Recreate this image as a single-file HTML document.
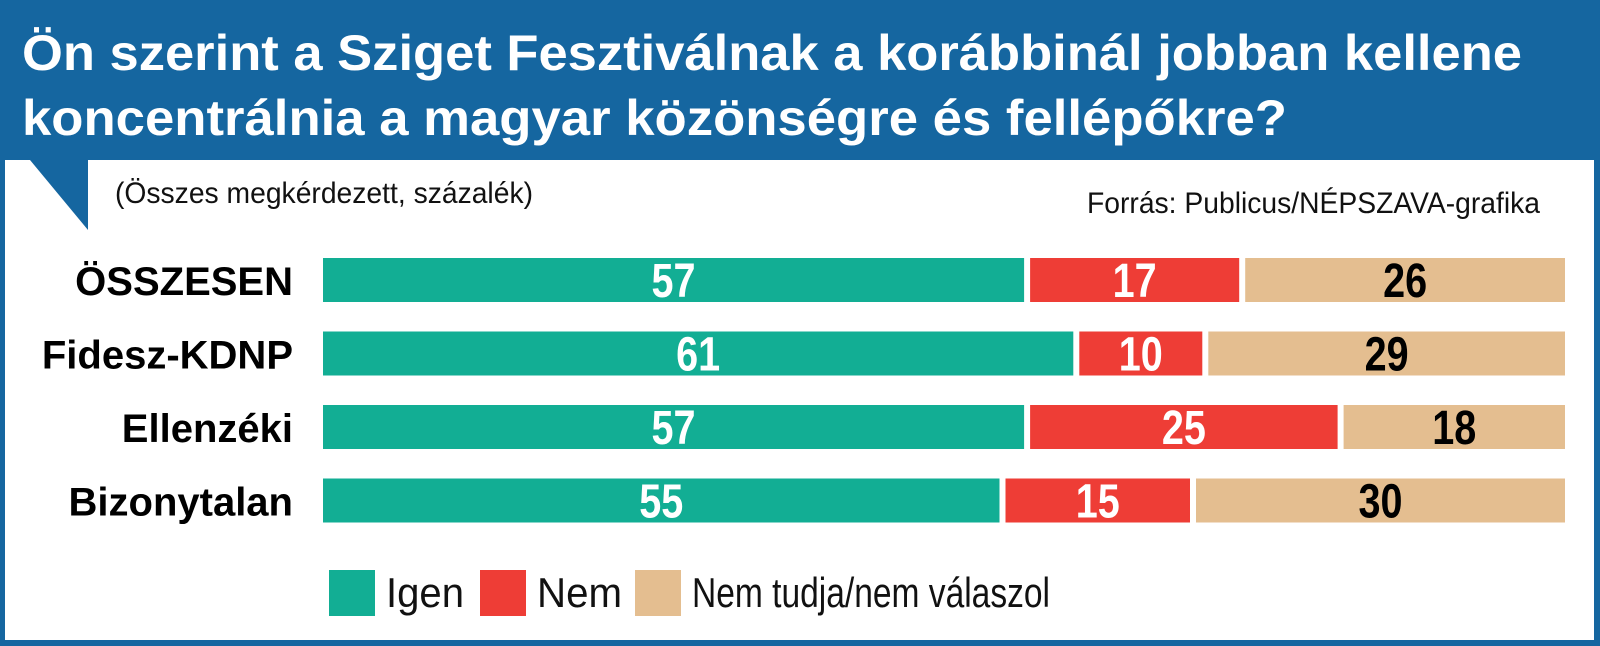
<!DOCTYPE html>
<html><head><meta charset="utf-8"><style>
html,body{margin:0;padding:0;background:#1566a0}
svg{display:block}
</style></head><body>
<svg width="1600" height="646" viewBox="0 0 1600 646" xmlns="http://www.w3.org/2000/svg">
<rect x="0" y="0" width="1600" height="646" fill="#1566a0"/>
<rect x="5" y="160" width="1589" height="480" fill="#ffffff"/>
<polygon points="30,160 88,160 88,230" fill="#1566a0"/>
<g font-family="'Liberation Sans Narrow','Liberation Sans',sans-serif" font-weight="bold" fill="#fff" font-size="50">
<text x="22" y="70" textLength="1500" lengthAdjust="spacingAndGlyphs">Ön szerint a Sziget Fesztiválnak a korábbinál jobban kellene</text>
<text x="22" y="135" textLength="1265" lengthAdjust="spacingAndGlyphs">koncentrálnia a magyar közönségre és fellépőkre?</text>
</g>
<text x="115" y="203" font-family="'Liberation Sans Narrow','Liberation Sans',sans-serif" font-size="30" fill="#111" textLength="418" lengthAdjust="spacingAndGlyphs">(Összes megkérdezett, százalék)</text>
<text x="1087" y="213" font-family="'Liberation Sans Narrow','Liberation Sans',sans-serif" font-size="30" fill="#111" textLength="453" lengthAdjust="spacingAndGlyphs">Forrás: Publicus/NÉPSZAVA-grafika</text>
<g id="bars"></g>
<g id="legend"></g>
</svg>
<script>
const categories = ["ÖSSZESEN","Fidesz-KDNP","Ellenzéki","Bizonytalan"];
const igen = [57,61,57,55];
const nem = [17,10,25,15];
const nemTudja = [26,29,18,30];
const seriesNames = ["Igen","Nem","Nem tudja/nem válaszol"];
const colors = ["#12ae94","#ee3d36","#e4be90"];
const textColors = ["#fff","#fff","#000"];
const NS = "http://www.w3.org/2000/svg";
const g = document.getElementById("bars");
const x0 = 323, x1 = 1565, gap = 6;
const rowY = i => 258 + i*73.5, barH = 44;
function mk(tag, attrs, parent){const e=document.createElementNS(NS,tag);for(const k in attrs)e.setAttribute(k,attrs[k]);parent.appendChild(e);return e;}
categories.forEach((c,i)=>{
  const vals=[igen[i],nem[i],nemTudja[i]];
  const total=vals.reduce((a,b)=>a+b,0);
  const avail=(x1-x0)-gap*(vals.length-1);
  const y=rowY(i);
  const lab=mk("text",{x:293,y:y+barH/2+15,"text-anchor":"end","font-family":"'Liberation Sans',sans-serif","font-weight":"bold","font-size":"40",fill:"#000"},g);
  
  
  lab.textContent=c;
  let x=x0;
  vals.forEach((v,j)=>{
    const w=avail*v/total;
    const r=mk("rect",{x:x,y:y,width:w,height:barH,fill:colors[j]},g);
    
    
    const t=mk("text",{x:x+w/2,y:y+barH/2+17,"text-anchor":"middle","font-family":"'Liberation Sans Narrow','Liberation Sans',sans-serif","font-weight":"bold","font-size":"48",fill:textColors[j],textLength:"44",lengthAdjust:"spacingAndGlyphs"},g);
    
    
    t.textContent=v;
    x+=w+gap;
  });
});
const lg=document.getElementById("legend");
const lx=[329,480,635];
const lw=[78,85,358];
seriesNames.forEach((n,j)=>{
  const r=mk("rect",{x:lx[j],y:570,width:46,height:46,fill:colors[j]},lg);
  
  
  const t=mk("text",{x:lx[j]+57,y:607,"font-family":"'Liberation Sans Narrow','Liberation Sans',sans-serif","font-size":"42",fill:"#111",textLength:lw[j],lengthAdjust:"spacingAndGlyphs"},lg);
  
  
  t.textContent=n;
});
</script>
</body></html>
